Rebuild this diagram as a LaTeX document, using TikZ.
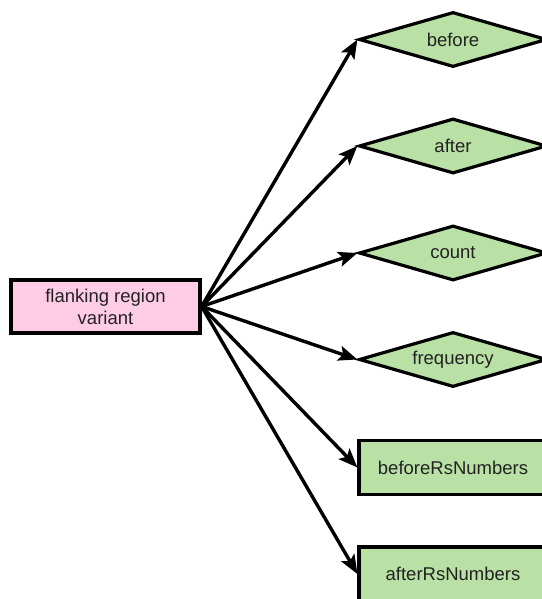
\documentclass[tikz,border=0pt]{standalone}
\usepackage{fontspec}
\setmainfont{Liberation Sans}
\usetikzlibrary{shapes.geometric,arrows.meta}
\definecolor{rootpink}{HTML}{FFCCE6}
\definecolor{leafgreen}{HTML}{B9E0A5}
\definecolor{inktext}{HTML}{222222}
\tikzset{
  base/.style={draw=black, line width=3.2pt, text=inktext, inner sep=0pt,
    font=\fontsize{18.5}{22}\selectfont, align=center},
  rootbox/.style={base, rectangle, fill=rootpink, minimum width=189pt, minimum height=53pt},
  attrdiamond/.style={base, diamond, fill=leafgreen, minimum width=188pt, minimum height=55pt, aspect=3.4},
  attrbox/.style={base, rectangle, fill=leafgreen, minimum width=188pt, minimum height=54pt},
  link/.style={draw=black, line width=3.4pt, -{Stealth[length=19pt,width=15pt,inset=4pt]}}
}
\begin{document}
\begin{tikzpicture}[x=1pt,y=-1pt]
  \useasboundingbox (0,0) rectangle (541,599);
  \node[rootbox] (root) at (105.5,306.5) {flanking region\\variant};
  \node[attrdiamond] (before) at (453,39.5) {before};
  \node[attrdiamond] (after) at (453,146) {after};
  \node[attrdiamond] (count) at (453,253) {count};
  \node[attrdiamond] (frequency) at (453,359.5) {frequency};
  \node[attrbox] (beforeRs) at (453,467.5) {beforeRsNumbers};
  \node[attrbox] (afterRs) at (453,574) {afterRsNumbers};
  \foreach \t in {before,after,count,frequency,beforeRs,afterRs}
    \draw[link] (root.east) -- (\t.west);
\end{tikzpicture}
\end{document}
